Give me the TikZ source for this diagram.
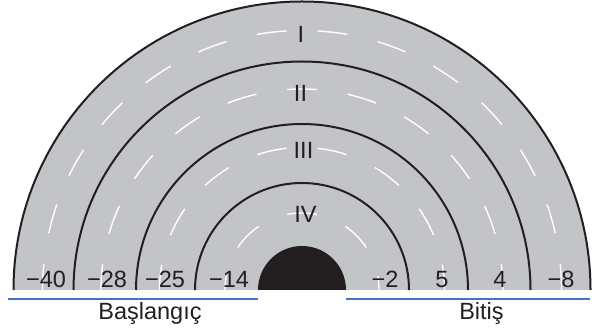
\documentclass[tikz,border=0pt]{standalone}
\usepackage{fontspec}
\setmainfont{Liberation Sans}
\definecolor{lanegray}{RGB}{195,196,200}
\definecolor{lineblue}{RGB}{68,114,196}
\definecolor{ink}{RGB}{35,31,32}
\begin{document}
\begin{tikzpicture}[x=1pt,y=1pt,
  border/.style={line width=2pt, draw=ink},
  lanedash/.style={white, line width=1.4pt, dash pattern=on 30pt off 31pt},
  lbl/.style={font=\fontsize{23.5}{28}\selectfont, text=ink, anchor=base, inner sep=0pt},
  rulebar/.style={lineblue, line width=1.4pt}]
\useasboundingbox (0,0) rectangle (604,334);
\coordinate (O) at (302,44);
% track surface
\fill[lanegray] (O) ++(0:288.5) arc[start angle=0,end angle=180,radius=288.5] -- cycle;
% lane centre dashes
\foreach \r/\ph in {259.5/45.5, 201/15, 142.5/45.5, 77/15} {
  \draw[lanedash, dash phase=\ph pt] (O) ++(90:\r) arc[start angle=90,end angle=0,radius=\r];
  \draw[lanedash, dash phase=\ph pt] (O) ++(90:\r) arc[start angle=90,end angle=180,radius=\r];
}
% lane borders
\foreach \r in {288.5,228.5,166,107}
  \draw[border] (O) ++(0:\r) arc[start angle=0,end angle=180,radius=\r];
% centre
\fill[ink] (O) ++(0:44) arc[start angle=0,end angle=180,radius=44] -- cycle;
% lane names
\node[lbl] (n1) at (301,291.3) {I};
\node[lbl] (n2) at (300.5,232.3) {II};
\node[lbl] (n3) at (303.5,175.7) {III};
\node[lbl] (n4) at (305.5,111.3) {IV};
% numbers
\node[lbl] (a1) at (46,46.7) {−40};
\node[lbl] (a2) at (107,46.7) {−28};
\node[lbl] (a3) at (165,46.7) {−25};
\node[lbl] (a4) at (229,46.7) {−14};
\node[lbl] (b4) at (385,46.7) {−2};
\node[lbl] (b3) at (442,46.7) {5};
\node[lbl] (b2) at (500,46.7) {4};
\node[lbl] (b1) at (561,46.7) {−8};
% start / finish rules
\coordinate (sL) at (8,35);
\coordinate (sR) at (258,35);
\coordinate (fL) at (346,35);
\coordinate (fR) at (590,35);
\draw[rulebar] (sL) -- (sR);
\draw[rulebar] (fL) -- (fR);
\node[lbl] (start) at (150,14.3) {Başlangıç};
\node[lbl] (finish) at (481.5,14.3) {Bitiş};
\end{tikzpicture}
\end{document}
